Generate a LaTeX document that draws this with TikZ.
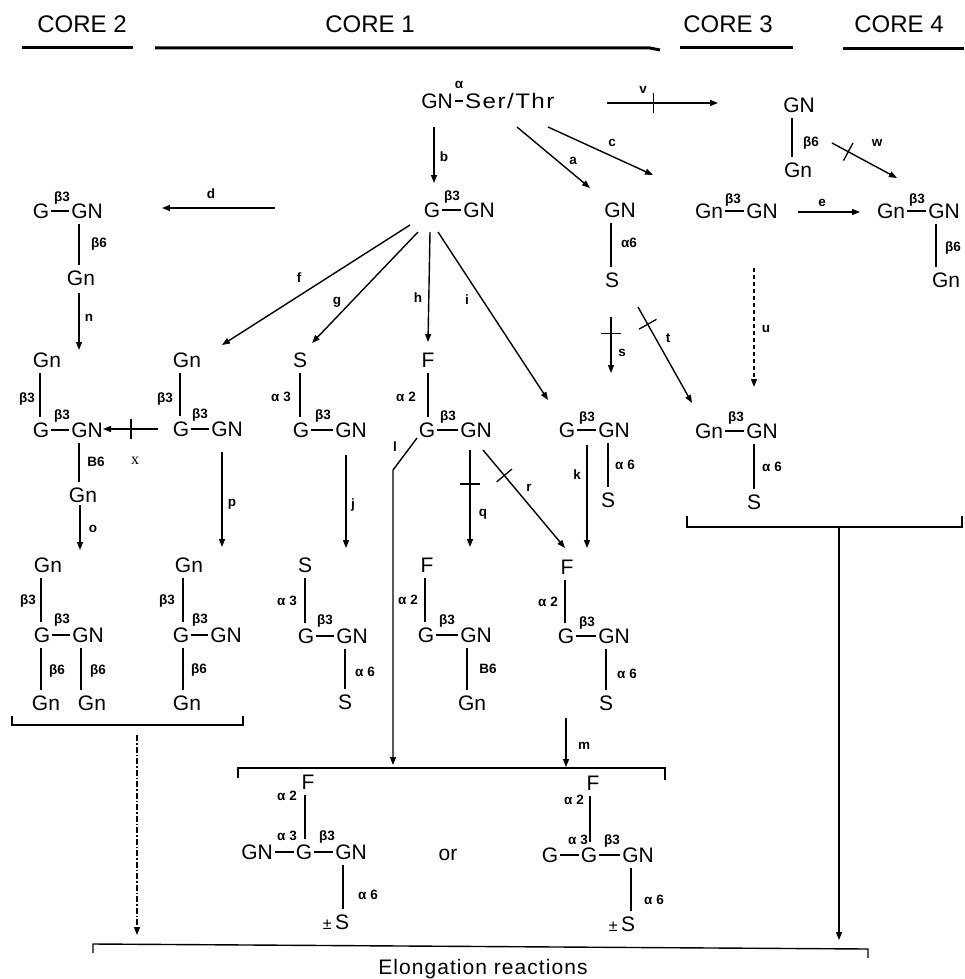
\documentclass[tikz,border=0pt]{standalone}
\usepackage{fontspec}
\setmainfont{Liberation Sans}
\newfontfamily\serifx{Liberation Serif}
\usetikzlibrary{arrows.meta,decorations.markings}
\newcommand{\vb}[3]{\draw[bond] (#1,0 |- #2.south) -- (#1,0 |- #3.north);}
\newcommand{\hb}[2]{\draw[bond,shorten <=1pt,shorten >=1pt] (#1.east) -- (#2.west);}
\newcommand{\conn}[4][]{\coordinate (#2s) at (#3); \coordinate (#2e) at (#4); \draw[arr,#1] (#2s) -- (#2e);}
\begin{document}
\begin{tikzpicture}[x=1pt,y=-1pt,
  res/.style={font=\fontsize{21}{21}\selectfont, inner xsep=1pt, inner ysep=5pt, text height=15pt, text depth=0pt},
  lab/.style={font=\fontsize{13.5}{13.5}\selectfont\bfseries, inner sep=0pt, text height=9.5pt, text depth=0pt},
  hdr/.style={font=\fontsize{24}{24}\selectfont, inner sep=0pt},
  bond/.style={line width=1.4pt},
  arr/.style={line width=1.4pt, -{Triangle[length=8pt,width=6pt]}},
  blocked/.style={postaction={decorate, decoration={markings, mark=at position #1 with {\draw[line width=1.3pt,-] (0,-10pt) -- (0,10pt);}}}},
  rulel/.style={line width=3pt},
  brk/.style={line width=1.4pt}
]
\useasboundingbox (0,0) rectangle (964,979);
\fill[white] (0,0) rectangle (964,979);
% headers
\node[hdr] (hC2) at (82,24) {CORE 2};
\node[hdr] (hC1) at (370,24) {CORE 1};
\node[hdr] (hC3) at (728,24) {CORE 3};
\node[hdr] (hC4) at (899,24) {CORE 4};
\draw[rulel] (22,48) -- (133,48);
\draw[rulel] (155,48) -- (650,48) -- (660,50);
\draw[rulel] (680,48) -- (793,48);
\draw[rulel] (843,49) -- (964,49);
% top
\node[res,inner ysep=0.5pt] (gn0) at (437,101) {GN};
\node[res,inner ysep=0.5pt,anchor=west] (ser) at (464,101) {\scalebox{1.15}[1]{\addfontfeature{LetterSpace=6}Ser/Thr}};
\hb{gn0}{ser}
\node[lab] (la0) at (459,84) {α};
\conn[blocked=0.42]{v}{607,103}{718,103}
\node[lab] (lv) at (643,89) {v};
% top right
\node[res] (t3a) at (799,105) {GN};
\node[res] (t3b) at (798,170) {Gn};
\vb{792}{t3a}{t3b}
\node[lab] (lt3) at (811,142) {β6};
\conn[blocked=0.25]{w}{832,143}{897,178}
\node[lab] (lw) at (877,142) {w};
% arrows from top
\conn{b}{434,127}{434,183}
\conn{a}{517,127}{590,188}
\conn{c}{548,127}{653,175}
\node[lab] (lb) at (444,157) {b};
\node[lab] (la) at (573,160) {a};
\node[lab] (lc) at (612,142) {c};
% core 1 main
\node[res] (g1) at (432,210) {G};
\node[res] (gn1) at (479,210) {GN};
\hb{g1}{gn1}
\node[lab] (lg1) at (452,196) {β3};
% core 2 top
\node[res] (gA) at (41,211) {G};
\node[res] (gnA) at (87,211) {GN};
\hb{gA}{gnA}
\node[lab] (lgA) at (62,197) {β3};
\node[res] (gnA2) at (81,278) {Gn};
\vb{79}{gnA}{gnA2}
\node[lab] (lgA2) at (99,243) {β6};
\conn{d}{275,208}{162,208}
\node[lab] (ld) at (211,194) {d};
% S chain
\node[res] (sgn) at (620,210) {GN};
\node[res] (ss) at (612,280) {S};
\vb{611}{sgn}{ss}
\node[lab] (lss) at (629,243) {α6};
% core 3 top
\node[res] (k3a) at (709,211) {Gn};
\node[res] (k3b) at (762,211) {GN};
\hb{k3a}{k3b}
\node[lab] (lk3) at (733,199) {β3};
\conn{e}{798,212}{860,212}
\node[lab] (le) at (822,202) {e};
% core 4
\node[res] (m4a) at (891,211) {Gn};
\node[res] (m4b) at (944,211) {GN};
\hb{m4a}{m4b}
\node[lab] (lm4) at (917,199) {β3};
\node[res] (m4c) at (946,280) {Gn};
\vb{936}{m4b}{m4c}
\node[lab] (lm4b) at (953,247) {β6};
% f g h i
\conn{f}{410,225}{222,345}
\conn{g}{418,232}{312,343}
\conn{h}{430,232}{428,342}
\conn{i}{438,232}{548,400}
\node[lab] (lf) at (299,278) {f};
\node[lab] (lgg) at (337,300) {g};
\node[lab] (lh) at (418,298) {h};
\node[lab] (li) at (467,300) {i};
\conn{n}{79,293}{79,350}
\node[lab] (ln) at (89,317) {n};
% row A col1
\node[res] (c1a) at (47,360) {Gn};
\node[res] (c1g) at (41,430) {G};
\node[res] (c1gn) at (87,430) {GN};
\vb{40}{c1a}{c1g}
\node[lab] (lc1a) at (27,398) {β3};
\hb{c1g}{c1gn}
\node[lab] (lc1b) at (62,415) {β3};
\node[res] (c1b) at (83,495) {Gn};
\vb{79}{c1gn}{c1b}
\node[lab] (lc1c) at (96,462) {B6};
\conn[blocked=0.49]{x}{158,429}{103,429}
\node[lab,font=\serifx\fontsize{16}{16}\selectfont] (lx) at (135,460) {x};
\conn{o}{80,505}{80,550}
\node[lab] (lo) at (93,528) {o};
% row A col2
\node[res] (c2a) at (187,360) {Gn};
\node[res] (c2g) at (181,429) {G};
\node[res] (c2gn) at (227,429) {GN};
\vb{180}{c2a}{c2g}
\node[lab] (lc2a) at (165,398) {β3};
\hb{c2g}{c2gn}
\node[lab] (lc2b) at (200,414) {β3};
\conn{p}{222,452}{222,547}
\node[lab] (lp) at (232,502) {p};
% row A col3
\node[res] (c3a) at (300,360) {S};
\node[res] (c3g) at (301,430) {G};
\node[res] (c3gn) at (351,430) {GN};
\vb{300}{c3a}{c3g}
\node[lab] (lc3a) at (281,397) {α 3};
\hb{c3g}{c3gn}
\node[lab] (lc3b) at (323,415) {β3};
\conn{j}{346,455}{346,548}
\node[lab] (lj) at (353,504) {j};
% row A col4
\node[res] (c4a) at (428,360) {F};
\node[res] (c4g) at (427,430) {G};
\node[res] (c4gn) at (476,430) {GN};
\vb{428}{c4a}{c4g}
\node[lab] (lc4a) at (406,397) {α 2};
\hb{c4g}{c4gn}
\node[lab] (lc4b) at (448,416) {β3};
\coordinate (ls) at (417,438);
\coordinate (lm) at (393,470);
\coordinate (le2) at (393,765);
\draw[arr] (ls) -- (lm) -- (le2);
\node[lab] (ll) at (395,447) {l};
\conn[blocked=0.35]{q}{470,450}{470,547}
\node[lab] (lq) at (483,512) {q};
\conn[blocked=0.26]{r}{483,450}{565,548}
\node[lab] (lr) at (529,487) {r};
% row A col5
\node[res] (c5g) at (567,430) {G};
\node[res] (c5gn) at (614,430) {GN};
\hb{c5g}{c5gn}
\node[lab] (lc5a) at (587,417) {β3};
\node[res] (c5s) at (608,500) {S};
\vb{608}{c5gn}{c5s}
\node[lab] (lc5b) at (625,465) {α 6};
\conn{k}{587,445}{587,548}
\node[lab] (lk) at (577,475) {k};
% s t u
\conn[blocked=0.3]{s}{611,317}{611,373}
\node[lab] (lls) at (622,352) {s};
\conn[blocked=0.18]{t}{638,307}{692,403}
\node[lab] (llt) at (668,338) {t};
\conn[dash pattern=on 4pt off 3pt]{u}{754,268}{754,387}
\node[lab] (llu) at (766,328) {u};
% core 3 lower
\node[res] (k3c) at (709,431) {Gn};
\node[res] (k3d) at (762,431) {GN};
\hb{k3c}{k3d}
\node[lab] (lk3c) at (736,417) {β3};
\node[res] (k3s) at (754,502) {S};
\vb{754}{k3d}{k3s}
\node[lab] (lk3d) at (772,467) {α 6};
% row B col1
\node[res] (r1a) at (48,565) {Gn};
\node[res] (r1g) at (42,635) {G};
\node[res] (r1gn) at (88,635) {GN};
\vb{41}{r1a}{r1g}
\node[lab] (lr1a) at (28,600) {β3};
\hb{r1g}{r1gn}
\node[lab] (lr1b) at (62,619) {β3};
\node[res] (r1b) at (46,703) {Gn};
\node[res] (r1c) at (92,703) {Gn};
\vb{41}{r1g}{r1b}
\vb{81}{r1gn}{r1c}
\node[lab] (lr1c) at (57,670) {β6};
\node[lab] (lr1d) at (98,670) {β6};
% row B col2
\node[res] (r2a) at (189,565) {Gn};
\node[res] (r2g) at (181,635) {G};
\node[res] (r2gn) at (226,635) {GN};
\vb{183}{r2a}{r2g}
\node[lab] (lr2a) at (167,600) {β3};
\hb{r2g}{r2gn}
\node[lab] (lr2b) at (200,619) {β3};
\node[res] (r2b) at (187,703) {Gn};
\vb{183}{r2g}{r2b}
\node[lab] (lr2c) at (199,669) {β6};
% row B col3
\node[res] (r3a) at (305,565) {S};
\node[res] (r3g) at (306,636) {G};
\node[res] (r3gn) at (352,636) {GN};
\vb{305}{r3a}{r3g}
\node[lab] (lr3a) at (287,601) {α 3};
\hb{r3g}{r3gn}
\node[lab] (lr3b) at (325,620) {β3};
\node[res] (r3s) at (345,702) {S};
\vb{345}{r3gn}{r3s}
\node[lab] (lr3c) at (365,672) {α 6};
% row B col4
\node[res] (r4a) at (427,565) {F};
\node[res] (r4g) at (426,635) {G};
\node[res] (r4gn) at (476,635) {GN};
\vb{425}{r4a}{r4g}
\node[lab] (lr4a) at (408,600) {α 2};
\hb{r4g}{r4gn}
\node[lab] (lr4b) at (447,620) {β3};
\node[res] (r4b) at (472,703) {Gn};
\vb{467}{r4gn}{r4b}
\node[lab] (lr4c) at (488,669) {B6};
% row B col5
\node[res] (r5a) at (567,567) {F};
\node[res] (r5g) at (566,636) {G};
\node[res] (r5gn) at (614,636) {GN};
\vb{565}{r5a}{r5g}
\node[lab] (lr5a) at (548,602) {α 2};
\hb{r5g}{r5gn}
\node[lab] (lr5b) at (587,622) {β3};
\node[res] (r5s) at (606,703) {S};
\vb{606}{r5gn}{r5s}
\node[lab] (lr5c) at (627,674) {α 6};
% brackets
\draw[brk] (12,716) -- (12,725) -- (243,725) -- (243,716);
\draw[brk] (238,778) -- (238,768) -- (665,768) -- (665,780);
\draw[brk] (687,516) -- (687,527) -- (962,527) -- (962,516);
\draw[brk] (93,953) -- (93,944) -- (868,949) -- (868,958);
\conn[dash pattern=on 6pt off 2pt on 1.5pt off 2pt]{dd}{137,735}{137,935}
\conn{m}{566,718}{566,767}
\node[lab] (lmm) at (584,745) {m};
\conn{cc}{839,528}{839,940}
% bottom structure 1
\node[res] (b1F) at (308,782) {F};
\node[res] (b1a) at (257,852) {GN};
\node[res] (b1b) at (304,852) {G};
\node[res] (b1c) at (351,852) {GN};
\vb{305}{b1F}{b1b}
\node[lab] (lb1a) at (287,796) {α 2};
\hb{b1a}{b1b}
\hb{b1b}{b1c}
\node[lab] (lb1b) at (287,836) {α 3};
\node[lab] (lb1c) at (327,836) {β3};
\node[res] (b1s) at (336,922) {{\fontsize{16}{16}\selectfont ±}\,S};
\vb{343}{b1c}{b1s}
\node[lab] (lb1d) at (368,895) {α 6};
\node[res] (oor) at (448,853) {or};
% bottom structure 2
\node[res] (b2F) at (593,783) {F};
\node[res] (b2a) at (550,855) {G};
\node[res] (b2b) at (589,855) {G};
\node[res] (b2c) at (638,855) {GN};
\vb{590}{b2F}{b2b}
\node[lab] (lb2a) at (574,800) {α 2};
\hb{b2a}{b2b}
\hb{b2b}{b2c}
\node[lab] (lb2b) at (578,840) {α 3};
\node[lab] (lb2c) at (612,840) {β3};
\node[res] (b2s) at (622,924) {{\fontsize{16}{16}\selectfont ±}\,S};
\vb{631}{b2c}{b2s}
\node[lab] (lb2d) at (654,900) {α 6};
\node[res] (elong) at (483,967) {\addfontfeature{LetterSpace=5}Elongation reactions};
\end{tikzpicture}
\end{document}
